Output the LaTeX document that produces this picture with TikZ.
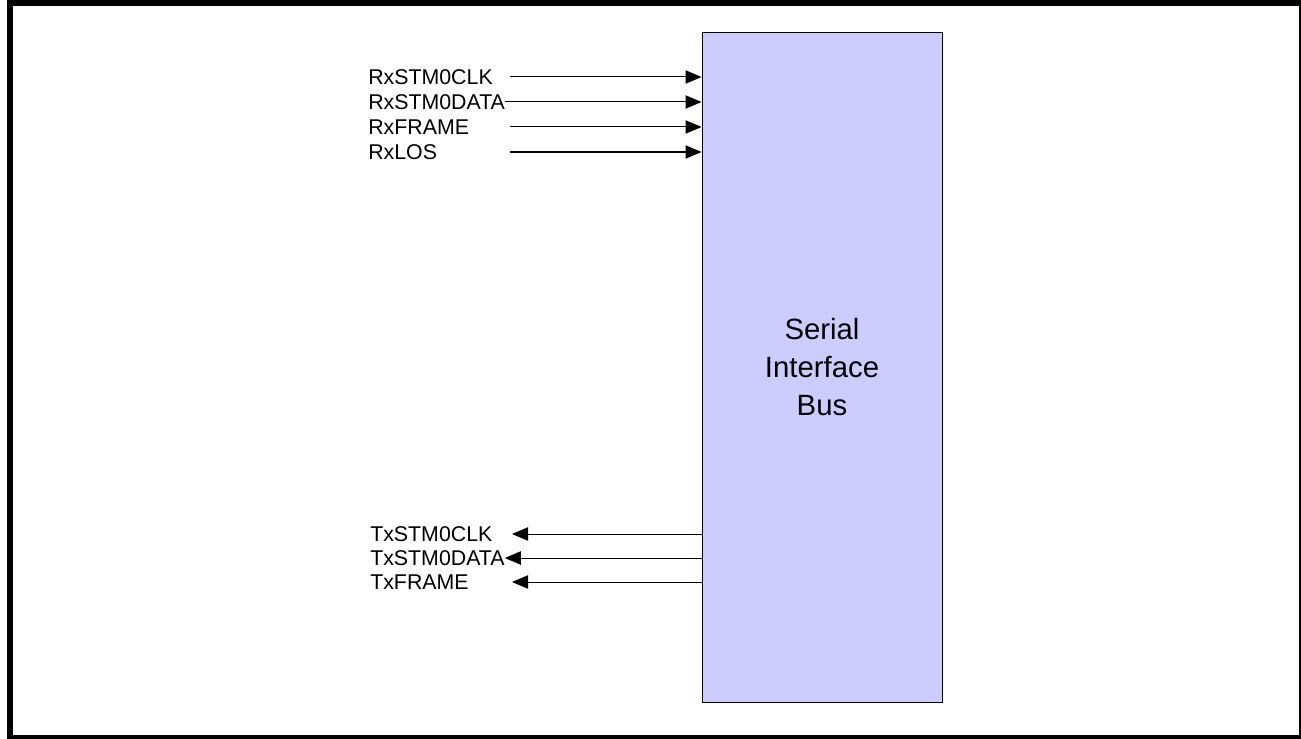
\documentclass[tikz,border=0pt]{standalone}
\usepackage{fontspec}
\setmainfont{Liberation Sans}
\usetikzlibrary{arrows.meta, positioning, calc}

\begin{document}
\begin{tikzpicture}[
    x=0.75pt, y=-0.75pt,
    % Signal names and the bus block
    sig/.style={anchor=west, inner sep=0pt, font=\fontsize{16}{19}\selectfont},
    bus/.style={draw=black, line width=0.75pt, fill=blue!20, minimum width=180pt, minimum height=503pt,
        align=center, font=\fontsize{22}{28.5}\selectfont},
    % Signal wires
    arr/.style={line width=0.75pt, -{Triangle[length=12pt,width=10pt]}},
    frame/.style={line width=4.5pt, draw=black}
]
\useasboundingbox (0,0) rectangle (1301,738);

% Outer frame
\draw[frame] (10,3) rectangle (1302,738);

% Bus block
\node[bus] (sib) at (822,367.5) {Serial\\Interface\\Bus};

% ===============================
% Receive side
% ===============================
\node[sig] (rxclk) at (368,77) {RxSTM0CLK};
\node[sig] (rxdata) at (368,102) {RxSTM0DATA};
\node[sig] (rxframe) at (368,127) {RxFRAME};
\node[sig] (rxlos) at (368,152) {RxLOS};

\coordinate (rxclkin) at (510,77);
\coordinate (rxdatain) at (rxdata.east);
\coordinate (rxframein) at (510,127);
\coordinate (rxlosin) at (510,152);

\draw[arr] (rxclkin) -- (rxclkin -| sib.west);
\draw[arr] (rxdatain) -- (rxdatain -| sib.west);
\draw[arr] (rxframein) -- (rxframein -| sib.west);
\draw[arr] (rxlosin) -- (rxlosin -| sib.west);

% ===============================
% Transmit side
% ===============================
\node[sig] (txclk) at (370,534) {TxSTM0CLK};
\node[sig] (txdata) at (370,558) {TxSTM0DATA};
\node[sig] (txframe) at (370,582) {TxFRAME};

\coordinate (txclkout) at (512,534);
\coordinate (txdataout) at (txdata.east);
\coordinate (txframeout) at (512,582);

\draw[arr] (txclkout -| sib.west) -- (txclkout);
\draw[arr] (txdataout -| sib.west) -- (txdataout);
\draw[arr] (txframeout -| sib.west) -- (txframeout);

\end{tikzpicture}
\end{document}
